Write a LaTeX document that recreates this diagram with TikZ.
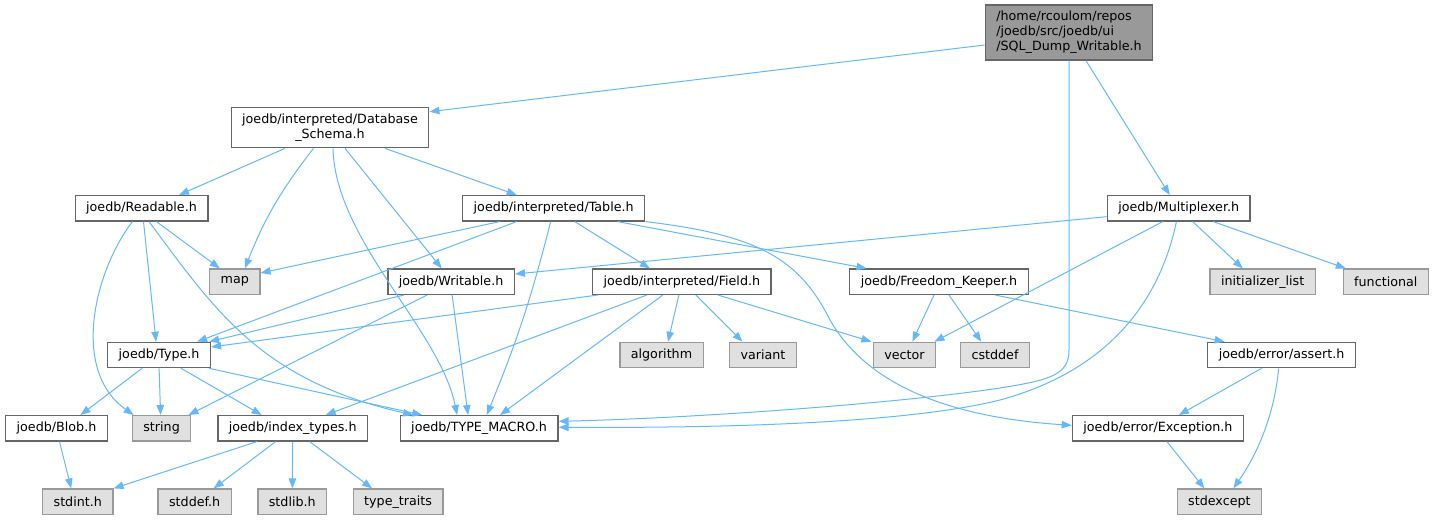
\documentclass[tikz,border=0pt]{standalone}
\usepackage{fontspec}
\setmainfont{DejaVu Sans}
\usetikzlibrary{arrows.meta}

\definecolor{edgeblue}{RGB}{99,184,255}
\definecolor{boxline}{HTML}{666666}
\definecolor{sysfill}{HTML}{E0E0E0}
\definecolor{sysline}{HTML}{999999}

\begin{document}
\begin{tikzpicture}[x=1pt, y=-1pt,
    font=\fontsize{12.7}{15}\selectfont,
    hdr/.style={rectangle, draw=boxline, fill=white, line width=1.3pt, inner xsep=11pt, inner ysep=3pt, minimum height=25.3pt},
    sys/.style={hdr, draw=sysline, fill=sysfill},
    mainfile/.style={hdr, fill=sysline, align=left, minimum height=55pt},
    incl/.style={draw=edgeblue, line width=1pt, -{Triangle[length=10pt,width=7.5pt]}}]
    \useasboundingbox (0,0) rectangle (1435,520);

    % headers
    \node[mainfile] (root) at (1069,32.5) {/home/rcoulom/repos\\/joedb/src/joedb/ui\\/SQL\_Dump\_Writable.h};
    \node[hdr, align=center, minimum height=40pt] (schema) at (330,127.7) {joedb/interpreted/Database\\\_Schema.h};
    \node[hdr] (readable) at (141.5,208.3) {joedb/Readable.h};
    \node[hdr] (table) at (553.7,208.3) {joedb/interpreted/Table.h};
    \node[hdr] (mux) at (1178.7,208.3) {joedb/Multiplexer.h};
    \node[hdr] (writable) at (451.1,281.7) {joedb/Writable.h};
    \node[hdr] (field) at (681.9,281.7) {joedb/interpreted/Field.h};
    \node[hdr] (keeper) at (939,281.7) {joedb/Freedom\_Keeper.h};
    \node[hdr] (type) at (159.1,355) {joedb/Type.h};
    \node[hdr] (assert) at (1281.6,355) {joedb/error/assert.h};
    \node[hdr] (blob) at (56.5,428.3) {joedb/Blob.h};
    \node[hdr] (indextypes) at (292.7,428.3) {joedb/index\_types.h};
    \node[hdr] (typemacro) at (479.1,428.3) {joedb/TYPE\_MACRO.h};
    \node[hdr] (exception) at (1157.9,428.3) {joedb/error/Exception.h};

    % system headers
    \node[sys] (map) at (234.8,281.7) {map};
    \node[sys] (initlist) at (1262.7,281.7) {initializer\_list};
    \node[sys] (functional) at (1385.8,281.7) {functional};
    \node[sys] (algorithm) at (661.5,355) {algorithm};
    \node[sys] (variant) at (763,355) {variant};
    \node[sys] (vector) at (904.4,355) {vector};
    \node[sys] (cstddef) at (995,355) {cstddef};
    \node[sys] (string) at (161.6,428.3) {string};
    \node[sys] (stdint) at (77.8,501.7) {stdint.h};
    \node[sys] (stddef) at (194.7,501.7) {stddef.h};
    \node[sys] (stdlib) at (292.3,501.7) {stdlib.h};
    \node[sys] (typetraits) at (398.1,501.7) {type\_traits};
    \node[sys] (stdexcept) at (1219.4,501.7) {stdexcept};

    % includes of the main file
    \draw[incl] ([yshift=-12.5pt]root.west) -- ([yshift=16pt]schema.east);
    \draw[incl] (root.south) -- (1069,350) .. controls (1069,375) and (1050,380) .. (1000,388)
        .. controls (900,403) and (700,418) .. ([yshift=7pt]typemacro.east);
    \draw[incl] ([xshift=17pt]root.south) -- ([xshift=-9pt]mux.north);

    % Database_Schema.h
    \draw[incl] ([xshift=-45pt]schema.south) -- ([xshift=37.5pt]readable.north);
    \draw[incl] ([xshift=-16.5pt]schema.south) to[bend right=8] ([xshift=10pt]map.north);
    \draw[incl] ([xshift=3pt]schema.south) .. controls (335,240) and (440,330) .. ([xshift=-22pt]typemacro.north);
    \draw[incl] ([xshift=15pt]schema.south) -- ([xshift=-9.4pt]writable.north);
    \draw[incl] ([xshift=55pt]schema.south) -- ([xshift=-37pt]table.north);

    % Readable.h
    \draw[incl] ([xshift=-9pt]readable.south) .. controls (95,270) and (70,370) .. ([xshift=-28pt]string.north);
    \draw[incl] ([xshift=2pt]readable.south) -- ([xshift=-3pt]type.north);
    \draw[incl] ([xshift=7.5pt]readable.south) .. controls (215,310) and (260,380) .. ([xshift=-66pt]typemacro.north);
    \draw[incl] ([xshift=15pt]readable.south) -- ([xshift=-15pt]map.north);

    % Table.h
    \draw[incl] ([xshift=-54pt]table.south) -- ([yshift=8.7pt]map.east);
    \draw[incl] ([xshift=-37pt]table.south) -- ([xshift=38pt]type.north);
    \draw[incl] ([xshift=-3pt]table.south) to[bend left=4] ([xshift=7.6pt]typemacro.north);
    \draw[incl] ([xshift=21pt]table.south) -- ([xshift=-32pt]field.north);
    \draw[incl] ([xshift=64pt]table.south) -- ([xshift=-72.5pt]keeper.north);
    \draw[incl] (table.south east) .. controls (760,235) and (800,260) .. (830,320)
        .. controls (870,390) and (960,418) .. ([yshift=3pt]exception.west);

    % Multiplexer.h
    \draw[incl] ([yshift=-8.4pt]mux.west) -- ([yshift=7.7pt]writable.east);
    \draw[incl] ([xshift=-16pt]mux.south) -- ([xshift=30pt]vector.north);
    \draw[incl] ([xshift=-2.3pt]mux.south) .. controls (1160,300) and (1110,370) .. (1000,400)
        .. controls (900,425) and (700,428) .. ([yshift=1pt]typemacro.east);
    \draw[incl] ([xshift=14pt]mux.south) -- ([xshift=-20pt]initlist.north);
    \draw[incl] ([xshift=34.5pt]mux.south) -- ([xshift=-40pt]functional.north);

    % Writable.h
    \draw[incl] ([xshift=-47pt]writable.south) -- ([xshift=-2pt]type.north east);
    \draw[incl] ([xshift=-24pt]writable.south) -- ([xshift=-3pt]string.north east);
    \draw[incl] ([xshift=1pt]writable.south) -- ([xshift=-11pt]typemacro.north);

    % Field.h
    \draw[incl] ([xshift=6pt]field.south west) -- ([yshift=8pt]type.east);
    \draw[incl] ([xshift=-35pt]field.south) -- ([xshift=33pt]indextypes.north);
    \draw[incl] ([xshift=-19pt]field.south) -- ([xshift=21pt]typemacro.north);
    \draw[incl] ([xshift=-3pt]field.south) -- ([xshift=6.5pt]algorithm.north);
    \draw[incl] ([xshift=14pt]field.south) -- ([xshift=-20.5pt]variant.north);
    \draw[incl] ([xshift=36pt]field.south) -- ([xshift=-33pt]vector.north);

    % Type.h
    \draw[incl] ([xshift=-17pt]type.south) -- ([xshift=24pt]blob.north);
    \draw[incl] (type.south) -- ([xshift=-1pt]string.north);
    \draw[incl] ([xshift=22pt]type.south) -- ([xshift=-31pt]indextypes.north);
    \draw[incl] ([xshift=-2pt]type.south east) -- ([xshift=-57pt]typemacro.north);

    % index_types.h and Blob.h
    \draw[incl] ([xshift=-35.7pt]indextypes.south) -- (stdint.north east);
    \draw[incl] ([xshift=-17pt]indextypes.south) -- ([xshift=19pt]stddef.north);
    \draw[incl] (indextypes.south) -- (stdlib.north);
    \draw[incl] ([xshift=17pt]indextypes.south) -- ([xshift=-26pt]typetraits.north);
    \draw[incl] ([xshift=3pt]blob.south) -- ([xshift=-6.6pt]stdint.north);

    % Freedom_Keeper.h and errors
    \draw[incl] ([xshift=-5pt]keeper.south) -- ([xshift=8pt]vector.north);
    \draw[incl] ([xshift=10pt]keeper.south) -- ([xshift=-13.7pt]cstddef.north);
    \draw[incl] ([xshift=56pt]keeper.south) -- ([xshift=-57pt]assert.north);
    \draw[incl] ([xshift=-20pt]assert.south) -- ([xshift=21pt]exception.north);
    \draw[incl] ([xshift=-3pt]assert.south) .. controls (1275,410) and (1260,450) .. ([xshift=14pt]stdexcept.north);
    \draw[incl] ([xshift=9pt]exception.south) -- ([xshift=-15pt]stdexcept.north);
\end{tikzpicture}
\end{document}
